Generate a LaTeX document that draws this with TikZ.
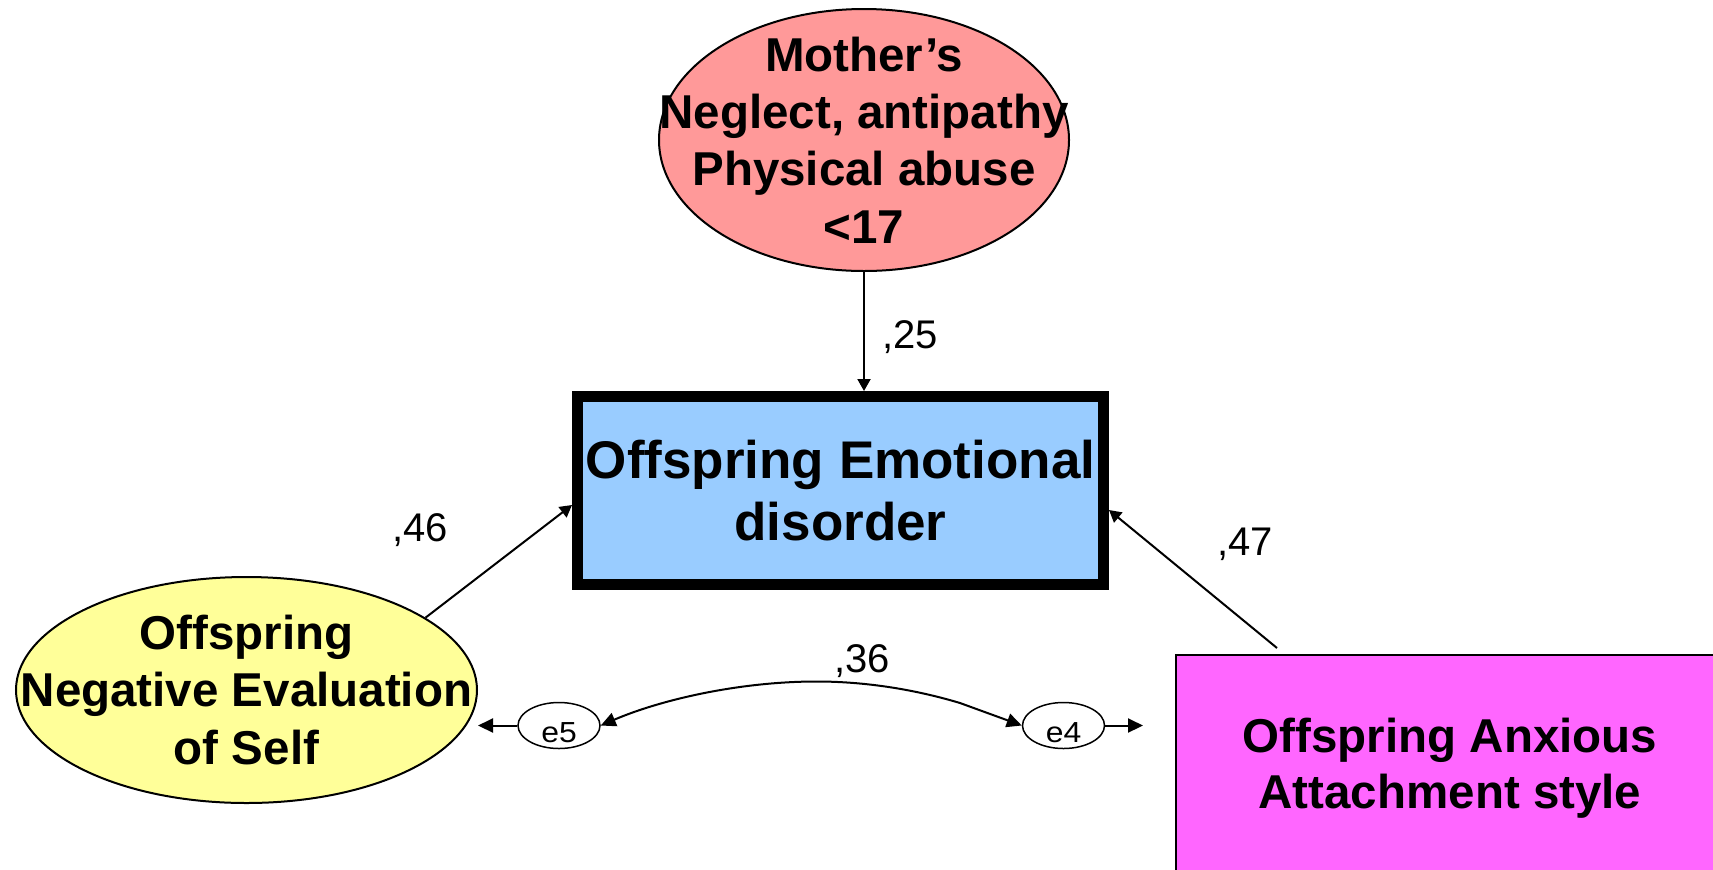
\documentclass[tikz,border=0pt]{standalone}
\usepackage{fontspec}
\setmainfont{Liberation Sans}
\newfontfamily\errfont[FakeStretch=1.1]{Liberation Sans}
\usetikzlibrary{shapes.geometric,arrows.meta}
\definecolor{momfill}{HTML}{FF9999}
\definecolor{emofill}{HTML}{99CCFF}
\definecolor{negfill}{HTML}{FFFF99}
\definecolor{anxfill}{HTML}{FF66FF}
\tikzset{
  latent/.style={ellipse, draw, line width=1pt, inner sep=0pt},
  latenttext/.style={inner sep=0pt, align=center,
    font=\fontsize{23.75}{28.7}\selectfont\bfseries},
  errvar/.style={ellipse, draw, line width=0.75pt, fill=white, inner sep=0pt,
    minimum width=41pt, minimum height=23pt, font=\errfont\fontsize{14.5}{16}\selectfont},
  coef/.style={anchor=base, inner sep=0pt, font=\fontsize{20}{24}\selectfont},
  link/.style={line width=1pt, -{Triangle[length=6pt,width=6.5pt]}},
  errlink/.style={line width=1pt, -{Triangle[length=7.5pt,width=7pt]}}
}
\begin{document}
\begin{tikzpicture}[x=0.5pt, y=-0.5pt]
  \clip (0,0) rectangle (1713,869);
  % latent variables and observed boxes
  \node[latent, fill=momfill, minimum width=205pt, minimum height=131pt]
    (mom) at (864,140) {};
  \node[latenttext] (momtext) at (mom) {Mother’s\\Neglect, antipathy\\Physical abuse\\<17};
  \node[draw, line width=5.5pt, fill=emofill, inner sep=0pt, align=center,
    minimum width=263pt, minimum height=94pt,
    font=\fontsize{26.5}{31}\selectfont\bfseries]
    (emo) at (840.5,490.5) {Offspring Emotional\\disorder};
  \node[latent, fill=negfill, minimum width=230.5pt, minimum height=113pt]
    (neg) at (246.5,690) {};
  \node[latenttext] (negtext) at (neg) {Offspring\\Negative Evaluation\\of Self};
  \node[draw, line width=1pt, fill=anxfill, inner sep=0pt, align=center,
    minimum width=274pt, minimum height=113pt,
    font=\fontsize{23.75}{28.25}\selectfont\bfseries]
    (anx) at (1450,768) {Offspring Anxious\\Attachment style};
  % error terms
  \node[errvar] (e5) at (559,725.5) {\raisebox{-3.5pt}[\height][\depth]{e5}};
  \node[errvar] (e4) at (1063.5,725.5) {\raisebox{-3.5pt}[\height][\depth]{e4}};
  \coordinate (s47) at (1277,648);
  \coordinate (e4out) at (1143,725.5);
  % paths
  \draw[link] (mom.south) -- (mom.south |- emo.north);
  \draw[link] (neg.22) -- ([yshift=-7.25pt]emo.west);
  \draw[link] (s47) -- ([yshift=-9.75pt]emo.east);
  \draw[errlink] (e5.west) -- (e5.west -| neg.east);
  \draw[errlink] (e4.east) -- (e4out);
  \draw[errlink, {Triangle[length=7.5pt,width=7pt]}-{Triangle[length=7.5pt,width=7pt]}]
    (e5.east) .. controls (660,700) and (740,681) .. (820,681.5)
    .. controls (880,682) and (930,694) .. (960,703) -- (e4.west);
  % coefficients
  \node[coef] (c25) at (910,348) {,25};
  \node[coef] (c46) at (420,541) {,46};
  \node[coef] (c47) at (1245,555) {,47};
  \node[coef] (c36) at (862,672) {,36};
\end{tikzpicture}
\end{document}
